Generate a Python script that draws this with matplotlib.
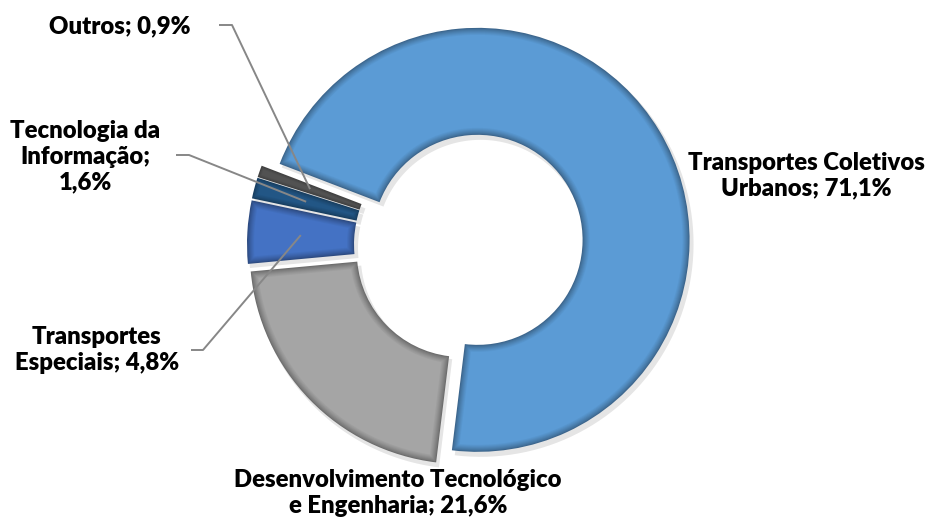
import numpy as np
import matplotlib
matplotlib.use("Agg")
import matplotlib.pyplot as plt
from matplotlib.patches import Polygon
from matplotlib.colors import to_rgb

# ---- data ----
categories = ["Transportes Coletivos Urbanos", "Desenvolvimento Tecnológico e Engenharia",
              "Transportes Especiais", "Tecnologia da Informação", "Outros"]
values = [71.1, 21.6, 4.8, 1.6, 0.9]
label_texts = ["Transportes Coletivos\nUrbanos; 71,1%",
               "Desenvolvimento Tecnológico\ne Engenharia; 21,6%",
               "Transportes\nEspeciais; 4,8%",
               "Tecnologia da\nInformação;\n1,6%",
               "Outros; 0,9%"]
colors = ["#5B9BD5", "#A5A5A5", "#4472C4", "#255E91", "#636363"]

W, H = 931, 521
fig = plt.figure(figsize=(W / 100, H / 100), dpi=100)
ax = fig.add_axes([0, 0, 1, 1])
ax.set_xlim(0, W)
ax.set_ylim(0, H)
ax.set_aspect("equal")
ax.axis("off")

R = 212
ring = 107
center = (469, 276)
wedges, _ = ax.pie(values, startangle=159, counterclock=False, colors=colors,
                   radius=R, center=center, explode=[10] * len(values),
                   wedgeprops=dict(width=ring, linewidth=0), frame=True)
ax.set_xlim(0, W)
ax.set_ylim(0, H)
ax.axis("off")


def inset_poly(cx, cy, ro, ri, t1, t2, d):
    ro2, ri2 = ro - d, ri + d
    a1o, a2o = t1 + np.degrees(d / ro2), t2 - np.degrees(d / ro2)
    a1i, a2i = t1 + np.degrees(d / ri2), t2 - np.degrees(d / ri2)
    if a2o <= a1o or a2i <= a1i or ro2 <= ri2:
        return None
    ao = np.radians(np.linspace(a1o, a2o, 120))
    ai = np.radians(np.linspace(a2i, a1i, 120))
    xs = np.concatenate([cx + ro2 * np.cos(ao), cx + ri2 * np.cos(ai)])
    ys = np.concatenate([cy + ro2 * np.sin(ao), cy + ri2 * np.sin(ai)])
    return np.column_stack([xs, ys])


for w, col in zip(wedges, colors):
    base = np.array(to_rgb(col))
    dark = base * 0.66
    cx, cy = w.center
    # soft shadow
    sh = inset_poly(cx + 3, cy - 4, w.r + 1, w.r - ring - 1, w.theta1, w.theta2, 0)
    if sh is not None:
        ax.add_patch(Polygon(sh, closed=True, facecolor=(0, 0, 0), alpha=0.10,
                             linewidth=0, zorder=0.5))
    w.set_facecolor(dark)
    w.set_zorder(1)
    steps = 7
    depth = 7.0
    for i in range(1, steps + 1):
        d = depth * i / steps
        f = (i / steps) ** 0.8
        c = dark * (1 - f) + base * f
        p = inset_poly(cx, cy, w.r, w.r - ring, w.theta1, w.theta2, d)
        if p is not None:
            ax.add_patch(Polygon(p, closed=True, facecolor=np.clip(c, 0, 1),
                                 linewidth=0, zorder=1 + i * 0.01))

# ---- labels ----
font = dict(family="Lato", weight="heavy", fontsize=17.2, color="black",
            ha="center", va="center", linespacing=1.2)
label_pos = [(806, 345), (398, 28), (97, 171), (85, 364), (120, 495)]
leader_start = [None, None, ((191, 171), (203, 171)), ((176, 366), (189, 366)),
                ((219, 496), (232, 496))]

for w, txt, pos, ls in zip(wedges, label_texts, label_pos, leader_start):
    ax.text(pos[0], pos[1], txt, zorder=5, **font)
    if ls is not None:
        cx, cy = w.center
        tm = np.radians((w.theta1 + w.theta2) / 2)
        rm = w.r - ring / 2
        px, py = cx + rm * np.cos(tm), cy + rm * np.sin(tm)
        ax.plot([ls[0][0], ls[1][0], px], [ls[0][1], ls[1][1], py],
                color="#878787", linewidth=1.4, zorder=4, solid_capstyle="butt")

fig.savefig("out.png", dpi=100)
